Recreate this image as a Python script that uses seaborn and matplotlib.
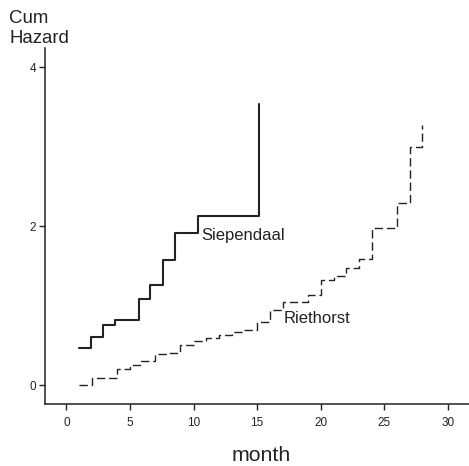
import numpy as np
import pandas as pd
import matplotlib
matplotlib.use("Agg")
import matplotlib.pyplot as plt
import seaborn as sns

# ---------------------------------------------------------
# data (Nelson-Aalen type step curves)
# ---------------------------------------------------------
siep_month = [1.0, 1.93, 2.85, 3.8, 5.71, 6.61, 7.58, 8.55, 10.36, 15.13]
siep_hazard = [0.47, 0.61, 0.76, 0.82, 1.09, 1.26, 1.58, 1.91, 2.13, 3.53]

rieth_month = [1, 2, 4, 5, 5.9, 6.95, 8, 8.95, 10, 11, 12, 13, 14, 15, 16, 17,
               19, 20, 21.05, 22, 23, 24, 26, 27, 28]
rieth_hazard = [0.0, 0.09, 0.20, 0.26, 0.31, 0.39, 0.41, 0.51, 0.55, 0.59, 0.63,
                0.67, 0.70, 0.79, 0.94, 1.05, 1.14, 1.32, 1.37, 1.47, 1.59, 1.98,
                2.29, 2.99, 3.27]

x_ticks = [0, 5, 10, 15, 20, 25, 30]
y_ticks = [0, 2, 4]

siep = pd.DataFrame({"month": siep_month, "hazard": siep_hazard})
rieth = pd.DataFrame({"month": rieth_month, "hazard": rieth_hazard})

# ---------------------------------------------------------
# plot
# ---------------------------------------------------------
sns.set_style("ticks")
plt.rcParams["font.family"] = ["Liberation Sans", "DejaVu Sans"]

ink = "#222222"
fig = plt.figure(figsize=(4.69, 4.66), dpi=100)
ax = fig.add_axes([45 / 469, 1 - 403.5 / 466, 1 - 45 / 469, (403.5 - 48) / 466])

sns.lineplot(data=siep, x="month", y="hazard", ax=ax, color=ink, lw=1.5,
             drawstyle="steps-post", estimator=None, sort=False)
sns.lineplot(data=rieth, x="month", y="hazard", ax=ax, color=ink, lw=1.0,
             drawstyle="steps-post", estimator=None, sort=False,
             linestyle=(0, (6, 2.8)))

ax.text(10.58, 1.83, "Siependaal", fontsize=12, color=ink, va="baseline")
ax.text(17.12, 0.78, "Riethorst", fontsize=12, color=ink, va="baseline")

ax.set_xlim(-1.69, 31.67)
ax.set_ylim(-0.23, 4.24)
ax.set_xticks(x_ticks)
ax.set_yticks(y_ticks)
ax.set_xlabel("")
ax.set_ylabel("")

sns.despine(ax=ax)
for side in ["left", "bottom"]:
    ax.spines[side].set_linewidth(1.1)
    ax.spines[side].set_color(ink)
ax.tick_params(axis="both", length=4.5, width=1.0, color=ink,
               labelsize=8.5, labelcolor=ink)
ax.tick_params(axis="x", pad=5)
ax.tick_params(axis="y", pad=2)

# axis titles placed like the original (y title sits above the axis)
fig.text(9 / 469, 1 - 22.7 / 466, "Cum", fontsize=13.4, color=ink,
         ha="left", va="baseline")
fig.text(9 / 469, 1 - 43.3 / 466, "Hazard", fontsize=13.4, color=ink,
         ha="left", va="baseline")
fig.text(261 / 469, 1 - 461 / 466, "month", fontsize=15.3, color=ink,
         ha="center", va="baseline")

fig.savefig("out.png", dpi=100)
